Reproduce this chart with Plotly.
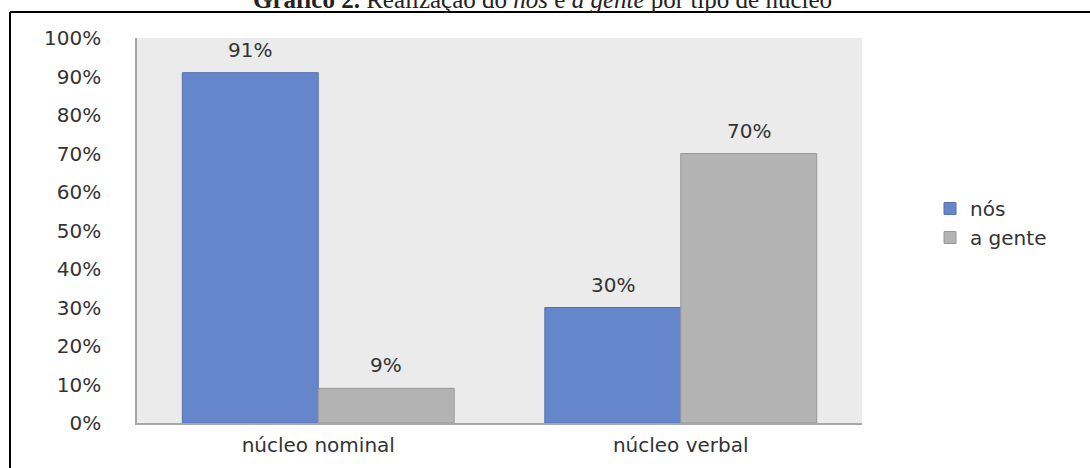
import plotly.graph_objects as go

categories = ["núcleo nominal", "núcleo verbal"]
nos_values = [91, 30]
agente_values = [9, 70]
series_names = ["nós", "a gente"]
tick_values = [0, 10, 20, 30, 40, 50, 60, 70, 80, 90, 100]
tick_labels = [f"{v}%" for v in tick_values]

W, H = 1090, 468
L, R, T, B = 137, 862, 38, 423

def px_x(p):
    return (p - L) / (R - L)

def px_y(p):
    return (B - p) / (B - T)

font_main = "DejaVu Sans, Verdana, sans-serif"
txt_color = "#333333"
FS = 20

fig = go.Figure()
fig.add_trace(go.Bar(
    x=categories, y=nos_values, name=series_names[0],
    marker=dict(color="#6686CB", line=dict(color="#5473B5", width=1)),
))
fig.add_trace(go.Bar(
    x=categories, y=agente_values, name=series_names[1],
    marker=dict(color="#B3B3B3", line=dict(color="#989898", width=1)),
))

bargap = 0.25
half = (1 - bargap) / 4
annotations = []
for i, (a, b) in enumerate(zip(nos_values, agente_values)):
    for off, v in ((-half, a), (half, b)):
        annotations.append(dict(
            x=i + off, y=v, xref="x", yref="y", text=f"{v}%",
            showarrow=False, yanchor="bottom", yshift=9,
            font=dict(size=FS, color=txt_color, family=font_main),
        ))

annotations.append(dict(
    text="<b>Gráfico 2.</b> Realização do <i>nós</i> e <i>a gente</i> por tipo de núcleo",
    xref="paper", yref="paper", x=px_x(542), y=px_y(0),
    xanchor="center", yanchor="middle", showarrow=False,
    font=dict(family="Liberation Serif, serif", size=25, color="#222222"),
))

fig.update_layout(
    width=W, height=H,
    margin=dict(l=L, r=W - R, t=T, b=H - B, pad=0, autoexpand=False),
    paper_bgcolor="white",
    plot_bgcolor="#EBEBEB",
    barmode="group",
    bargap=bargap,
    bargroupgap=0,
    font=dict(family=font_main, size=FS, color=txt_color),
    showlegend=True,
    legend=dict(
        x=px_x(930), y=px_y(189), xanchor="left", yanchor="top",
        font=dict(size=FS, color=txt_color, family=font_main),
        tracegroupgap=18, itemwidth=30, bgcolor="rgba(0,0,0,0)",
    ),
    xaxis=dict(
        automargin=False,
        showgrid=False, showline=True, linecolor="#A6A6A6", linewidth=1.5,
        ticks="", tickfont=dict(size=FS, color=txt_color), ticklabelstandoff=3,
    ),
    yaxis=dict(
        automargin=False,
        range=[0, 100], tickvals=tick_values, ticktext=tick_labels,
        showgrid=False, showline=True, linecolor="#A6A6A6", linewidth=1.5,
        ticks="", tickfont=dict(size=FS, color=txt_color), ticklabelstandoff=30,
        zeroline=False,
    ),
    annotations=annotations,
    shapes=[
        dict(type="line", xref="paper", yref="paper",
             x0=px_x(10), x1=px_x(1100), y0=px_y(12), y1=px_y(12),
             line=dict(color="black", width=2)),
        dict(type="line", xref="paper", yref="paper",
             x0=px_x(10), x1=px_x(10), y0=px_y(12), y1=px_y(480),
             line=dict(color="black", width=2)),
    ],
)

fig.write_html(
    "out.html",
    config={"displayModeBar": False},
    post_script="document.body.style.margin='0';document.body.style.overflow='hidden';",
)
